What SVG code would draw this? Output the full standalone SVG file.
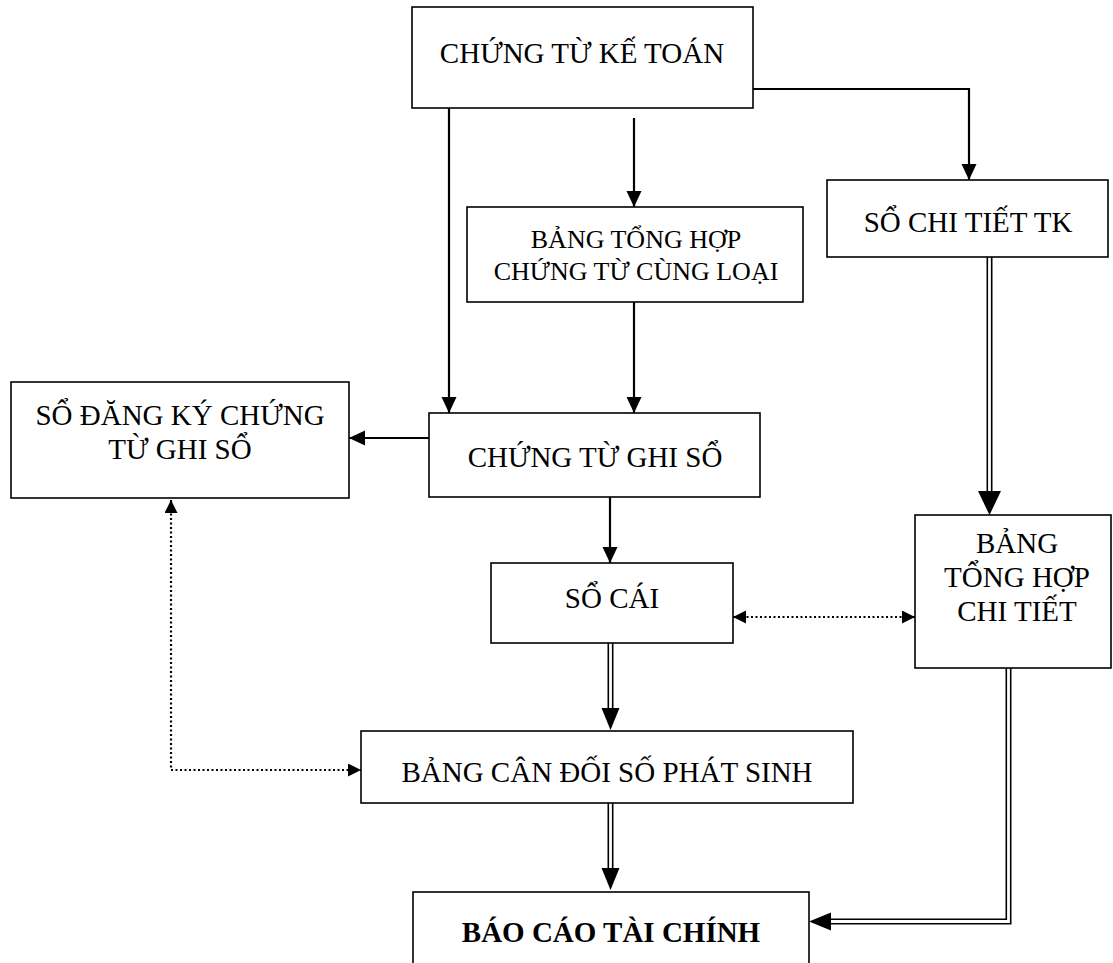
<svg xmlns="http://www.w3.org/2000/svg" width="1113" height="963" viewBox="0 0 1113 963">
  <style>
    .box { fill: #fff; stroke: #000; stroke-width: 1.6; }
    .lbl { font-family: "Liberation Serif", "Times New Roman", serif; font-size: 29px; fill: #000; text-anchor: middle; }
    .sm { font-size: 26px; }
    .bold { font-weight: bold; }
    .ln { fill: none; stroke: #000; stroke-width: 2.2; }
    .dot { fill: none; stroke: #000; stroke-width: 2.2; stroke-dasharray: 2 2.5; }
    .dblo { fill: none; stroke: #000; stroke-width: 6; stroke-linejoin: miter; }
    .dbli { fill: none; stroke: #fff; stroke-width: 2.8; stroke-linejoin: miter; }
  </style>
  <defs>
    <!-- single-line arrowhead, tip at the path end -->
    <marker id="ah" markerUnits="userSpaceOnUse" markerWidth="16" markerHeight="16" refX="16" refY="7.5" orient="auto">
      <path d="M0,0 L16,7.5 L0,15 z" fill="#000"/>
    </marker>
    <!-- dotted-line arrowhead, tip at the path end -->
    <marker id="dh" markerUnits="userSpaceOnUse" markerWidth="14" markerHeight="14" refX="13" refY="6.5" orient="auto-start-reverse">
      <path d="M0,0 L13,6.5 L0,13 z" fill="#000"/>
    </marker>
    <!-- double-line arrowheads, base at the path end -->
    <marker id="bh" markerUnits="userSpaceOnUse" markerWidth="26" markerHeight="20" refX="0" refY="9" orient="auto">
      <path d="M0,0 L22,9 L0,18 z" fill="#000"/>
    </marker>
    <marker id="bhl" markerUnits="userSpaceOnUse" markerWidth="26" markerHeight="24" refX="0" refY="11.5" orient="auto">
      <path d="M0,0 L24,11.5 L0,23 z" fill="#000"/>
    </marker>
  </defs>

  <rect width="1113" height="963" fill="#fff"/>

  <!-- connectors -->
  <g id="connectors">
    <!-- single arrows -->
    <path class="ln" d="M753,89 H969 V180" marker-end="url(#ah)"/>
    <path class="ln" d="M634,118 V207" marker-end="url(#ah)"/>
    <path class="ln" d="M449,108 V413" marker-end="url(#ah)"/>
    <path class="ln" d="M634,302 V413" marker-end="url(#ah)"/>
    <path class="ln" d="M429,438 H349" marker-end="url(#ah)"/>
    <path class="ln" d="M610,497 V563" marker-end="url(#ah)"/>

    <!-- dotted two-way links -->
    <path class="dot" d="M171,500 V770 H361" marker-start="url(#dh)" marker-end="url(#dh)"/>
    <path class="dot" d="M733,617 H915" marker-start="url(#dh)" marker-end="url(#dh)"/>

    <!-- double-line arrows -->
    <path class="dblo" d="M989.5,257 V491" marker-end="url(#bhl)"/>
    <path class="dbli" d="M989.5,257 V491"/>

    <path class="dblo" d="M610.5,643 V708" marker-end="url(#bh)"/>
    <path class="dbli" d="M610.5,643 V708"/>

    <path class="dblo" d="M610.5,803 V868" marker-end="url(#bh)"/>
    <path class="dbli" d="M610.5,803 V868"/>

    <path class="dblo" d="M1008.5,668 V921.5 H831" marker-end="url(#bh)"/>
    <path class="dbli" d="M1008.5,668 V921.5 H831"/>
  </g>

  <!-- nodes -->
  <g id="chung-tu-ke-toan">
    <rect class="box" x="412" y="7" width="341" height="101"/>
    <text class="lbl" x="582" y="63">CHỨNG TỪ KẾ TOÁN</text>
  </g>

  <g id="bang-tong-hop-chung-tu">
    <rect class="box" x="467" y="207" width="336" height="95"/>
    <text class="lbl sm" x="636" y="248">BẢNG TỔNG HỢP</text>
    <text class="lbl sm" x="636" y="280">CHỨNG TỪ CÙNG LOẠI</text>
  </g>

  <g id="so-chi-tiet">
    <rect class="box" x="827" y="180" width="281" height="77"/>
    <text class="lbl" x="968" y="232">SỔ CHI TIẾT TK</text>
  </g>

  <g id="so-dang-ky">
    <rect class="box" x="11" y="382" width="338" height="116"/>
    <text class="lbl" x="180" y="425">SỔ ĐĂNG KÝ CHỨNG</text>
    <text class="lbl" x="180" y="459">TỪ GHI SỔ</text>
  </g>

  <g id="chung-tu-ghi-so">
    <rect class="box" x="429" y="413" width="331" height="84"/>
    <text class="lbl" x="595" y="467">CHỨNG TỪ GHI SỔ</text>
  </g>

  <g id="bang-tong-hop-chi-tiet">
    <rect class="box" x="915" y="515" width="196" height="153"/>
    <text class="lbl" x="1017" y="553">BẢNG</text>
    <text class="lbl" x="1017" y="587">TỔNG HỢP</text>
    <text class="lbl" x="1017" y="621">CHI TIẾT</text>
  </g>

  <g id="so-cai">
    <rect class="box" x="491" y="563" width="242" height="80"/>
    <text class="lbl" x="612" y="608">SỔ CÁI</text>
  </g>

  <g id="bang-can-doi">
    <rect class="box" x="361" y="731" width="492" height="72"/>
    <text class="lbl" x="607" y="782">BẢNG CÂN ĐỐI SỐ PHÁT SINH</text>
  </g>

  <g id="bao-cao-tai-chinh">
    <rect class="box" x="413" y="892" width="396" height="90"/>
    <text class="lbl bold" x="611" y="942">BÁO CÁO TÀI CHÍNH</text>
  </g>
</svg>
